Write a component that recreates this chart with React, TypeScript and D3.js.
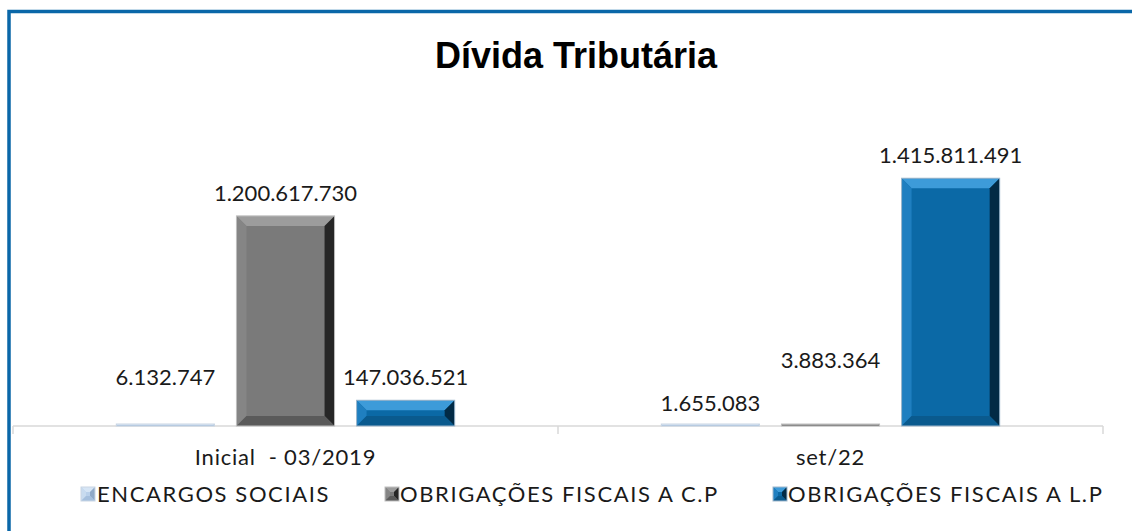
import React from "react";
import * as d3 from "d3";

const categories = ["Inicial  - 03/2019", "set/22"];
const seriesNames = ["ENCARGOS SOCIAIS", "OBRIGAÇÕES FISCAIS A C.P", "OBRIGAÇÕES FISCAIS A L.P"];
const encargosSociais = [6132747, 1655083];
const obrigacoesCP = [1200617730, 3883364];
const obrigacoesLP = [147036521, 1415811491];
const valueLabels = [
  ["6.132.747", "1.655.083"],
  ["1.200.617.730", "3.883.364"],
  ["147.036.521", "1.415.811.491"],
];
const title = "Dívida Tributária";

const W = 1132;
const H = 531;
const FONT = "'Century Gothic', 'Lato', 'Open Sans', sans-serif";

type Pal = { face: string; top: string; left: string; right: string; bottom: string; stroke: string };
const palettes: Pal[] = [
  { face: "#b9d0ea", top: "#d6e5f5", left: "#c8dbef", right: "#8fa9c8", bottom: "#a5bfdd", stroke: "#c9d6e4" },
  { face: "#7a7a7a", top: "#9c9c9c", left: "#858585", right: "#262626", bottom: "#5a5a5a", stroke: "#bfbfbf" },
  { face: "#0b69a6", top: "#3d9bd9", left: "#1f7fc0", right: "#022a45", bottom: "#0a5a8e", stroke: "#9fb7cc" },
];

// manual label nudges (px) for overlapping small-value labels
const labelNudge = [
  [-25, 0],
  [0, -42],
  [0, 0],
];

function Bevel({ x, y, w, h, pal, bev }: { x: number; y: number; w: number; h: number; pal: Pal; bev: number }) {
  const b = Math.max(0, Math.min(bev, h / 2, w / 2));
  const pts = (a: number[][]) => a.map((p) => p.join(",")).join(" ");
  return (
    <g>
      <rect x={x} y={y} width={w} height={h} fill={pal.face} />
      {b > 0.5 && (
        <>
          <polygon points={pts([[x, y], [x + w, y], [x + w - b, y + b], [x + b, y + b]])} fill={pal.top} />
          <polygon points={pts([[x, y], [x + b, y + b], [x + b, y + h - b], [x, y + h]])} fill={pal.left} />
          <polygon points={pts([[x + w, y], [x + w, y + h], [x + w - b, y + h - b], [x + w - b, y + b]])} fill={pal.right} />
          <polygon points={pts([[x, y + h], [x + b, y + h - b], [x + w - b, y + h - b], [x + w, y + h]])} fill={pal.bottom} />
        </>
      )}
      <rect x={x} y={y} width={w} height={h} fill="none" stroke={pal.stroke} strokeWidth={1} />
    </g>
  );
}

export default function App() {
  const series = [encargosSociais, obrigacoesCP, obrigacoesLP];
  const axisY = 426;
  const x0 = d3.scaleBand<string>().domain(categories).range([13, 1103]);
  const x1 = d3
    .scaleBand<number>()
    .domain([0, 1, 2])
    .range([0, x0.bandwidth()])
    .paddingInner(0.1833)
    .paddingOuter(0.86);
  const y = d3.scaleLinear().domain([0, 1600000000]).range([axisY, 146]);

  const legendItems = [
    { mx: 81, tx: 97 },
    { mx: 385, tx: 400 },
    { mx: 773, tx: 788 },
  ];

  return (
    <svg
      width={W}
      height={H}
      style={{ position: "absolute", left: 0, top: 0, background: "#fff" }}
      fontFamily={FONT}
    >
      <rect x={0} y={0} width={W} height={H} fill="#fff" />
      <rect x={9} y={11.5} width={W + 20} height={H + 20} fill="none" stroke="#0a67a8" strokeWidth={3.5} />
      <text x={576} y={68} textAnchor="middle" fontFamily="'Liberation Sans', Arial, sans-serif" fontWeight="bold" fontSize={36} fill="#000">
        {title}
      </text>

      {/* axis */}
      <line x1={13} x2={1103} y1={axisY} y2={axisY} stroke="#d9d9d9" strokeWidth={1.5} />
      {[13, ...categories.map((c) => (x0(c) as number) + x0.bandwidth())].map((t, i) => (
        <line key={i} x1={t} x2={t} y1={axisY} y2={axisY + 8} stroke="#d9d9d9" strokeWidth={1.5} />
      ))}

      {categories.map((c, ci) => (
        <g key={c}>
          {series.map((vals, si) => {
            const bx = (x0(c) as number) + (x1(si) as number);
            const bw = x1.bandwidth();
            const top = y(vals[ci]);
            const h = Math.max(axisY - top, 2);
            return (
              <g key={si}>
                <Bevel x={bx} y={axisY - h} w={bw} h={h} pal={palettes[si]} bev={10} />
                <text
                  x={bx + bw / 2}
                  y={top - 23 + 8 + labelNudge[si][ci]}
                  textAnchor="middle"
                  fontSize={22}
                  fill="#1a1a1a"
                >
                  {valueLabels[si][ci]}
                </text>
              </g>
            );
          })}
          <text
            x={(x0(c) as number) + x0.bandwidth() / 2}
            y={465}
            textAnchor="middle"
            fontSize={22}
            letterSpacing={0.8}
            fill="#1a1a1a"
            style={{ whiteSpace: "pre" }}
          >
            {c}
          </text>
        </g>
      ))}

      {seriesNames.map((s, i) => (
        <g key={s}>
          <Bevel x={legendItems[i].mx} y={487} w={14} h={14} pal={palettes[i]} bev={5} />
          <text x={legendItems[i].tx} y={502} fontSize={22} letterSpacing={1.6} fill="#1a1a1a">
            {s}
          </text>
        </g>
      ))}
    </svg>
  );
}
